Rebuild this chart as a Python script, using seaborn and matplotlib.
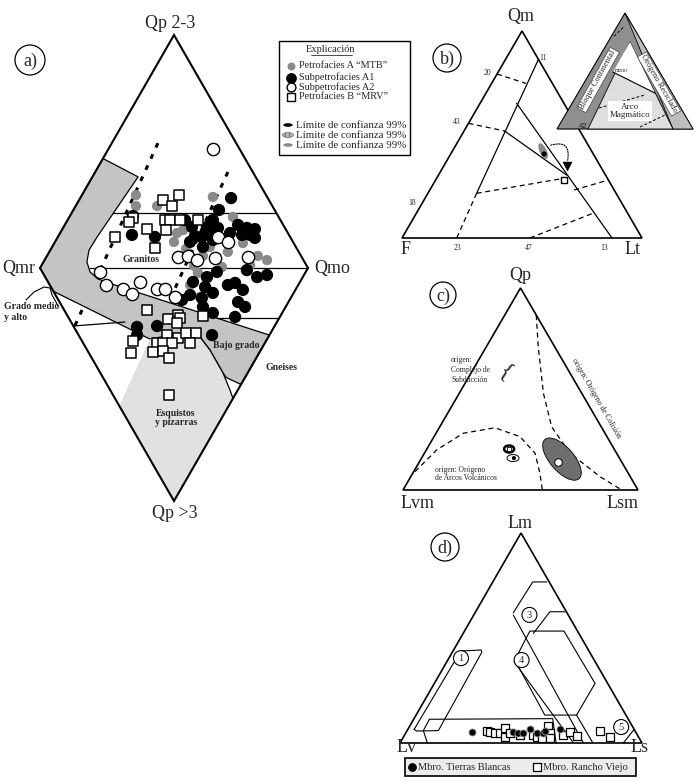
import numpy as np
import matplotlib
matplotlib.use("Agg")
import matplotlib.pyplot as plt
import seaborn as sns
from matplotlib.patches import Polygon, Ellipse, Circle, Rectangle, FancyArrowPatch

sns.set_theme(style="white")
plt.rcParams['font.family'] = ['Liberation Serif', 'DejaVu Serif']

GRAY_PT = '#8a8a8a'

# ---------------- a) diamond: u = Qmr -> Qmo (%), v = Qp (%) (+ = Qp 2-3, - = Qp >3)
a_gray_u = [35.8, 35.8, 43.7, 64.5, 72.0, 51.1, 50.0, 54.5, 70.1, 75.7, 81.3, 84.7, 53.4, 58.9,
            56.0, 59.7, 67.9, 60.8, 36.2, 78.4, 63.4, 57.5]
a_gray_v = [31.3, 26.6, 26.6, 30.5, 21.9, 15.0, 11.2, 8.2, 6.9, 10.7, 5.2, 3.4, 16.3, -2.1,
            -7.3, -12.4, 0.4, 5.2, -27.0, 1.3, 9.0, 0.9]
a_a1_u = [71.3, 66.8, 34.7, 34.3, 42.9, 54.1, 56.7, 57.8, 60.4, 62.3, 64.5, 65.3, 63.4, 60.8,
          73.9, 77.2, 80.2, 78.4, 80.2, 75.4, 70.9, 56.0, 57.1, 62.3, 66.0, 61.6, 64.5, 56.0,
          60.4, 70.1, 72.8, 75.7, 77.2, 81.0, 84.7, 73.9, 76.5, 60.8, 64.5, 72.8, 64.2, 36.2,
          36.2, 43.7, 53.0, 64.5, 66.4]
a_a1_v = [30.0, 24.9, 22.3, 14.2, 13.3, 20.6, 17.6, 13.7, 13.3, 17.6, 20.6, 16.7, 15.0, 9.0,
          18.5, 17.2, 16.7, 14.2, 12.9, 14.2, 15.0, 11.2, -6.0, -3.9, -1.7, -8.2, -10.7, -11.6,
          -12.9, -7.3, -6.4, -9.4, -0.9, -3.9, -3.0, -14.6, -16.7, -16.7, -19.3, -21.0, -28.8, -25.3,
          -28.8, -24.9, -13.7, 12.0, 17.2]
a_a2_u = [64.5, 66.4, 70.1, 51.5, 55.2, 58.6, 65.3, 77.6, 50.4, 22.4, 24.6, 31.0, 34.3, 43.7, 46.6, 37.3]
a_a2_v = [51.1, 13.3, 11.2, 4.7, 5.2, 3.4, 4.3, 4.7, -12.4, -1.7, -7.3, -9.0, -11.2, -9.0, -9.0, -6.0]
a_b_u = [51.9, 45.9, 49.2, 34.7, 33.2, 46.6, 48.5, 52.2, 58.9, 39.9, 47.0, 28.0, 42.9, 60.8, 39.9,
         47.8, 51.5, 52.2, 51.1, 47.4, 51.5, 54.5, 58.2, 56.0, 43.7, 45.9, 49.2, 42.2, 45.9, 48.1,
         34.7, 34.0, 48.1]
a_b_v = [31.3, 29.2, 26.6, 21.5, 19.7, 20.6, 20.6, 20.6, 20.6, 16.7, 16.3, 13.3, 8.6, -20.6, -18.0,
         -21.9, -20.2, -21.5, -23.6, -28.8, -30.0, -27.9, -27.9, -32.2, -32.2, -32.2, -32.2, -36.1,
         -35.6, -38.6, -31.3, -36.5, -54.5]

# field boundaries of the diamond
band_u = [23.5, 36.6, 21.3, 18.3, 17.5, 18.7, 21.6, 26.9, 85.6, 75.0, 69.5, 68.3, 63.4, 59.7,
          56.0, 48.0, 41.0, 5.0, 0.0]
band_v = [47.0, 39.1, 13.3, 7.7, 2.6, -1.7, -4.7, -6.9, -28.8, -50.0, -47.0, -45.1, -35.2, -29.6,
          -28.8, -29.0, -30.5, -10.0, 0.0]
schist_u = [41.0, 29.6, 50.0, 72.0, 70.9, 68.3, 63.4, 59.7, 56.0, 48.0]
schist_v = [-30.5, -59.2, -100.0, -56.0, -52.4, -45.1, -35.2, -29.6, -28.8, -29.0]
a_lines = [([27.4, 88.2], [23.6, 23.6]), ([18.5, 100.0], [0.0, 0.0]),
           ([66.0, 89.2], [-21.5, -21.5]), ([12.4, 31.7], [-24.9, -23.2])]
a_dashed = [([44.0, 12.3], [53.6, -26.6]), ([70.1, 30.6], [41.2, -58.8])]

# ---------------- b) Qm - F - Lt   (values as Qm %, Lt %)
b_solid = [([86.3, 21.6], [13.7, 20.3]), ([65.1, 0.0], [15.2, 87.5]), ([51.7, 30.4], [16.9, 53.4])]
b_dashed = [([21.6, 0.0], [20.3, 22.8]), ([79.2, 74.7], [0.0, 14.3]), ([55.4, 51.7], [0.0, 16.9]),
            ([21.6, 28.8], [20.3, 52.8]), ([23.2, 28.0], [60.1, 72.0]), ([0.0, 11.9], [53.3, 73.5])]
b_dot_qm, b_dot_lt = [40.6], [38.9]
b_tri_qm, b_tri_lt = [34.8], [51.4]
b_sq_qm, b_sq_lt = [28.0], [53.5]

# ---------------- c) Qp - Lvm - Lsm  (values as Qp %, Lsm %)
c_collision_qp = [86.6, 70.9, 47.9, 31.3, 18.2, 6.6, 0.0]
c_collision_lsm = [13.4, 22.1, 35.8, 47.6, 62.0, 80.5, 93.1]
c_arc_qp = [9.1, 19.8, 28.1, 30.8, 26.4, 18.2, 8.3, 0.0]
c_arc_lsm = [0.6, 4.4, 11.6, 23.7, 36.6, 47.1, 54.1, 59.3]

# ---------------- d) Lm - Lv - Ls  (values as Lm %, Ls %)
d_tb_lm = [5.2, 5.2, 4.8, 4.8, 6.7, 4.8, 4.8, 5.7, 6.7]
d_tb_ls = [27.1, 44.1, 46.4, 48.4, 50.4, 54.2, 56.7, 57.0, 62.8]
d_rv_lm = [5.9, 5.4, 4.9, 4.6, 7.0, 3.0, 4.6, 3.8, 3.8, 3.0, 2.2, 8.1, 4.6, 2.2, 3.8, 5.4, 3.3, 5.9, 3.0]
d_rv_ls = [32.9, 34.5, 36.8, 39.0, 39.9, 41.9, 43.2, 47.7, 53.2, 55.0, 57.5, 57.3, 59.7, 60.9,
           65.6, 67.5, 71.3, 79.7, 85.3]
d_fields = [([6.5, 43.8, 44.3, 43.2, 5.9, 5.7, 6.5], [2.6, 3.2, 11.4, 12.2, 12.9, 4.0, 2.6]),
            ([5.9, 11.3, 11.6, 0.0], [6.7, 6.5, 57.3, 64.5]),
            ([5.9, 0.0], [6.7, 11.3]),
            ([62.0, 76.7, 76.7], [15.8, 16.5, 22.3]),
            ([61.0, 0.1], [16.3, 75.7]),
            ([39.5, 53.3, 53.3, 28.4, 13.3, 13.3, 39.5], [27.7, 27.0, 41.1, 66.4, 66.3, 53.2, 27.7]),
            ([52.2, 62.5, 62.5], [29.0, 30.7, 36.9]),
            ([38.7, 0.1], [27.8, 71.6]),
            ([13.3, 0.1], [66.3, 79.6]),
            ([0.1, 6.5], [92.3, 93.5])]


def dia(u, v):
    return 40 + np.asarray(u) * 2.68, 268 - np.asarray(v) * 2.33


def tern_b(qm, lt):
    qm, lt = np.asarray(qm), np.asarray(lt)
    return 402 + (lt + qm / 2) * 2.40, 238 - qm * 2.07


def tern_c(qp, lsm):
    qp, lsm = np.asarray(qp), np.asarray(lsm)
    return 403 + (lsm + qp / 2) * 2.35, 490 - qp * 2.02


def tern_d(lm, ls):
    lm, ls = np.asarray(lm), np.asarray(ls)
    return 400 + (ls + lm / 2) * 2.42, 743 - lm * 2.10


def tern_i(top, right):
    top, right = np.asarray(top), np.asarray(right)
    return 557 + (right + top / 2) * 1.36, 129 - top * 1.16


fig = plt.figure(figsize=(6.95, 7.82), dpi=100)
ax = fig.add_axes([0, 0, 1, 1])
ax.set_xlim(0, 695)
ax.set_ylim(782, 0)
ax.axis('off')


def poly(xs, ys, **kw):
    ax.add_patch(Polygon(np.column_stack([xs, ys]), closed=True, **kw))


def circ_label(x, y, r, s, fs=13):
    ax.add_patch(Circle((x, y), r, fill=False, lw=0.9, ec='black', zorder=6))
    ax.text(x, y + 1, s, ha='center', va='center', fontsize=fs, zorder=6)


# ======================= panel a
for (u, v) in a_dashed:
    x, y = dia(u, v)
    ax.plot(x, y, color='black', lw=2.2, ls=(0, (1.6, 2.4)), zorder=0.5)
x, y = dia(band_u, band_v)
poly(x, y, fc='#c4c4c4', ec='black', lw=0.9, zorder=1)
x, y = dia(schist_u, schist_v)
poly(x, y, fc='#e1e1e1', ec='none', zorder=1)
ax.plot(x[3:], y[3:], color='black', lw=0.9, zorder=1.5)
for (u, v) in a_lines:
    x, y = dia(u, v)
    ax.plot(x, y, color='black', lw=0.9, zorder=1.5)
x, y = dia([0, 50, 100, 50], [0, 100, 0, -100])
poly(x, y, fill=False, ec='black', lw=1.5, zorder=2.5)

x, y = dia(a_gray_u, a_gray_v)
sns.scatterplot(x=x, y=y, ax=ax, s=55, color=GRAY_PT, edgecolor='none', zorder=3, legend=False)
x, y = dia(a_a1_u, a_a1_v)
sns.scatterplot(x=x, y=y, ax=ax, s=78, color='black', edgecolor='none', zorder=4, legend=False)
x, y = dia(a_a2_u, a_a2_v)
sns.scatterplot(x=x, y=y, ax=ax, s=78, color='white', edgecolor='black', linewidth=1.0,
                zorder=5, legend=False)
x, y = dia(a_b_u, a_b_v)
sns.scatterplot(x=x, y=y, ax=ax, s=58, marker='s', color='white', edgecolor='black', linewidth=1.1,
                zorder=5.5, legend=False)

ax.text(170, 24, 'Qp 2-3', fontsize=13, ha='center', va='center')
ax.text(19, 268, 'Qmr', fontsize=13, ha='center', va='center')
ax.text(332, 268, 'Qmo', fontsize=13, ha='center', va='center')
ax.text(175, 514, 'Qp >3', fontsize=13, ha='center', va='center')
circ_label(30, 60, 15, 'a)')
bold = dict(fontsize=7, fontweight='bold', ha='center', va='center', zorder=6)
ax.text(141, 260, 'Granitos', **bold)
ax.text(236, 346, 'Bajo grado', **bold)
ax.text(282, 368, 'Gneises', **bold)
ax.text(176, 418, 'Esquistos\ny pizarras', linespacing=1.1, **bold)
ax.text(4, 312, 'Grado medio\ny alto', fontsize=7, fontweight='bold', ha='left', va='center',
        linespacing=1.2)
ax.plot([26, 34, 44, 50], [300, 292, 287, 288], color='black', lw=0.8)
ax.plot([50, 52, 56, 58], [288, 295, 302, 306], color='black', lw=0.8)

# legend box of panel a
ax.add_patch(Rectangle((279, 41), 131, 114, fill=False, ec='black', lw=1.0, zorder=6))
ax.text(331, 50, 'Explicación', fontsize=7.5, ha='center', va='center')
ax.plot([311, 352], [55, 55], color='black', lw=0.5)
ax.scatter([291], [66], s=22, color=GRAY_PT, zorder=6)
ax.scatter([291], [77.5], s=45, color='black', zorder=6)
ax.scatter([291], [87], s=40, color='white', edgecolor='black', lw=1.0, zorder=6)
ax.scatter([291], [96.5], s=38, marker='s', color='white', edgecolor='black', lw=1.0, zorder=6)
leg_txt = dict(fontsize=7.4, ha='left', va='center')
ax.text(299, 66, 'Petrofacies A \u201cMTB\u201d', **leg_txt)
ax.text(299, 77.5, 'Subpetrofacies A1', **leg_txt)
ax.text(299, 87, 'Subpetrofacies A2', **leg_txt)
ax.text(299, 96.5, 'Petrofacies B \u201cMRV\u201d', **leg_txt)
ax.add_patch(Ellipse((288, 125), 11, 5, fc='black', zorder=6))
ax.add_patch(Ellipse((288, 135), 11, 5, fc='#bbbbbb', ec='#777777', lw=0.6, hatch='||||', zorder=6))
ax.add_patch(Ellipse((288, 145), 11, 5, fc=GRAY_PT, zorder=6))
for yy in (125, 135, 145):
    ax.text(296, yy, 'Límite de confianza 99%', fontsize=7.8, ha='left', va='center')

# ======================= panel b
x, y = tern_b([100, 0, 0], [0, 0, 100])
poly(x, y, fill=False, ec='black', lw=1.2, zorder=3)
for (q, l) in b_solid:
    x, y = tern_b(q, l)
    ax.plot(x, y, color='black', lw=0.9, zorder=2)
for (q, l) in b_dashed:
    x, y = tern_b(q, l)
    ax.plot(x, y, color='black', lw=0.9, ls=(0, (4, 3)), zorder=2)
ex, ey = tern_b(42.0, 37.8)
ax.add_patch(Ellipse((ex, ey), 7, 17, angle=-25, fc=GRAY_PT, ec='none', zorder=3))
x, y = tern_b(b_dot_qm, b_dot_lt)
sns.scatterplot(x=x, y=y, ax=ax, s=14, color='black', edgecolor='none', zorder=4, legend=False)
tx, ty = tern_b(b_tri_qm, b_tri_lt)
sns.scatterplot(x=tx, y=ty, ax=ax, s=40, marker='v', color='black', edgecolor='black', zorder=4,
                legend=False)
x, y = tern_b(b_sq_qm, b_sq_lt)
sns.scatterplot(x=x, y=y, ax=ax, s=22, marker='s', color='white', edgecolor='black', linewidth=1.0,
                zorder=4, legend=False)
ax.add_patch(FancyArrowPatch((ex + 5, ey - 5), (tx[0], ty[0] - 3), connectionstyle='arc3,rad=-0.9',
                             arrowstyle='-', ls=(0, (1.2, 1.2)), lw=0.8, color='black', zorder=4))

ax.text(521, 17, 'Qm', fontsize=13, ha='center', va='center')
ax.text(406, 249, 'F', fontsize=13, ha='center', va='center')
ax.text(633, 249, 'Lt', fontsize=13, ha='center', va='center')
tick = dict(fontsize=5.5, ha='center', va='center')
for s, xx, yy in [('11', 543, 58), ('20', 487, 73), ('43', 457, 122), ('18', 412, 203),
                  ('23', 457, 248), ('47', 529, 248), ('13', 604, 248)]:
    ax.text(xx, yy, s, **tick)
circ_label(447, 58, 14, 'b)')

# inset of panel b
x, y = tern_i([100, 0, 0], [0, 0, 100])
poly(x, y, fc='#8f8f8f', ec='black', lw=0.8, zorder=3)
x, y = tern_i([100, 0, 0], [0, 100, 85.3])
poly(x, y, fc='#bdbdbd', ec='black', lw=0.6, zorder=3.1)
x, y = tern_i([75, 0, 0], [16.2, 22.8, 85.3])
poly(x, y, fc='#dedede', ec='black', lw=0.6, zorder=3.2)
x, y = tern_i([75, 49.1, 31], [16.2, 16.6, 56.5])
poly(x, y, fc='white', ec='none', zorder=3.3)
ax.plot(x[1:], y[1:], color='black', lw=0.8, zorder=3.4)
for (t, r) in [([18.1, 29.3], [21.8, 50.0]), ([1.7, 12.9], [60.2, 74.4]), ([80, 88], [2.0, 5.0])]:
    x, y = tern_i(t, r)
    ax.plot(x, y, color='black', lw=0.7, ls=(0, (3, 2)), zorder=3.4)
box = dict(boxstyle='square,pad=0.15', fc='white', ec='#444444', lw=0.5)
ax.text(598, 80, 'Bloque Continental', rotation=61, fontsize=6, ha='center', va='center',
        bbox=box, zorder=3.5)
ax.text(659, 84, 'Orógeno Reciclado', rotation=-60, fontsize=6, ha='center', va='center',
        bbox=box, zorder=3.5)
ax.text(630, 111, 'Arco\nMagmático', fontsize=6.5, ha='center', va='center', linespacing=1.1,
        bbox=dict(boxstyle='square,pad=0.15', fc='white', ec='none'), zorder=3.5)
ax.text(583, 127, '42', fontsize=5.5, family='Liberation Sans', ha='center', va='center', zorder=3.6)
ax.text(621, 71, 'mixto', fontsize=4, ha='center', va='center', zorder=3.6)

# ======================= panel c
x, y = tern_c([100, 0, 0], [0, 0, 100])
poly(x, y, fill=False, ec='black', lw=1.2, zorder=3)
x, y = tern_c(c_collision_qp, c_collision_lsm)
ax.plot(x, y, color='black', lw=0.9, ls=(0, (4, 3)), zorder=2)
x, y = tern_c(c_arc_qp, c_arc_lsm)
ax.plot(x, y, color='black', lw=0.9, ls=(0, (4, 3)), zorder=2)
gx, gy = tern_c(15.3, 60.0)
ax.add_patch(Ellipse((gx, gy), 52, 24, angle=49, fc='#6e6e6e', ec='black', lw=0.6, zorder=3))
x, y = tern_c([13.9], [59.0])
sns.scatterplot(x=x, y=y, ax=ax, s=30, color='white', edgecolor='black', linewidth=0.7, zorder=4,
                legend=False)
sx, sy = tern_c(20.3, 35.0)
ax.add_patch(Ellipse((sx, sy), 10, 7, fc='white', ec='black', lw=1.8, zorder=3))
x, y = tern_c([20.3], [35.0])
sns.scatterplot(x=x, y=y, ax=ax, s=8, marker='s', color='white', edgecolor='black', linewidth=0.6,
                zorder=4, legend=False)
wx, wy = tern_c(15.8, 38.9)
ax.add_patch(Ellipse((wx, wy), 12, 7, fc='white', ec='black', lw=0.7, zorder=3))
x, y = tern_c([15.8], [39.3])
sns.scatterplot(x=x, y=y, ax=ax, s=9, color='black', edgecolor='none', zorder=4, legend=False)

ax.text(520, 276, 'Qp', fontsize=13, ha='center', va='center')
ax.text(418, 503, 'Lvm', fontsize=13, ha='center', va='center')
ax.text(623, 503, 'Lsm', fontsize=13, ha='center', va='center')
circ_label(443, 295, 13, 'c)')
ax.text(451, 370, 'origen:\nComplejo de\nSubducción', fontsize=5.5, ha='left', va='center',
        linespacing=1.3)
ax.text(506, 372, '{', fontsize=17, rotation=-35, ha='center', va='center')
ax.text(596, 398, 'origen: Orógeno de Colisión', fontsize=5.8, rotation=-60, ha='center',
        va='center')
ax.text(435, 474, 'origen: Orógeno\nde Arcos Volcánicos', fontsize=5.5, ha='left', va='center',
        linespacing=1.05)

# ======================= panel d
x, y = tern_d([100, 0, 0], [0, 0, 100])
poly(x, y, fill=False, ec='black', lw=1.2, zorder=3)
for (lm, ls) in d_fields:
    x, y = tern_d(lm, ls)
    ax.plot(x, y, color='black', lw=0.8, zorder=2)
x, y = tern_d(d_rv_lm, d_rv_ls)
sns.scatterplot(x=x, y=y, ax=ax, s=30, marker='s', color='white', edgecolor='black', linewidth=0.9,
                zorder=4, legend=False)
x, y = tern_d(d_tb_lm, d_tb_ls)
sns.scatterplot(x=x, y=y, ax=ax, s=26, color='black', edgecolor='#9a9a9a', linewidth=0.6, zorder=5,
                legend=False)
for s, (lm, ls) in [('1', (40.4, 5.0)), ('3', (61.0, 23.0)), ('4', (39.5, 30.5)), ('5', (7.6, 87.6))]:
    x, y = tern_d(lm, ls)
    ax.add_patch(Circle((float(x), float(y)), 7.5, fc='white', ec='black', lw=0.8, zorder=5))
    ax.text(float(x), float(y) + 0.5, s, fontsize=7.5, ha='center', va='center', zorder=5)

ax.text(520, 524, 'Lm', fontsize=13, ha='center', va='center')
ax.text(407, 748, 'Lv', fontsize=13, ha='center', va='center', zorder=7)
ax.text(640, 748, 'Ls', fontsize=13, ha='center', va='center', zorder=7)
circ_label(445, 547, 14, 'd)')

ax.add_patch(Rectangle((405, 758), 231, 18, fc='#ececec', ec='black', lw=1.2, zorder=5))
ax.scatter([412], [767], s=28, color='black', zorder=6)
ax.text(418, 767, 'Mbro. Tierras Blancas', fontsize=7.5, ha='left', va='center', zorder=6)
ax.scatter([537], [767], s=34, marker='s', color='white', edgecolor='black', lw=0.9, zorder=6)
ax.text(543, 767, 'Mbro. Rancho Viejo', fontsize=7.5, ha='left', va='center', zorder=6)

fig.savefig('out.png', dpi=100)
